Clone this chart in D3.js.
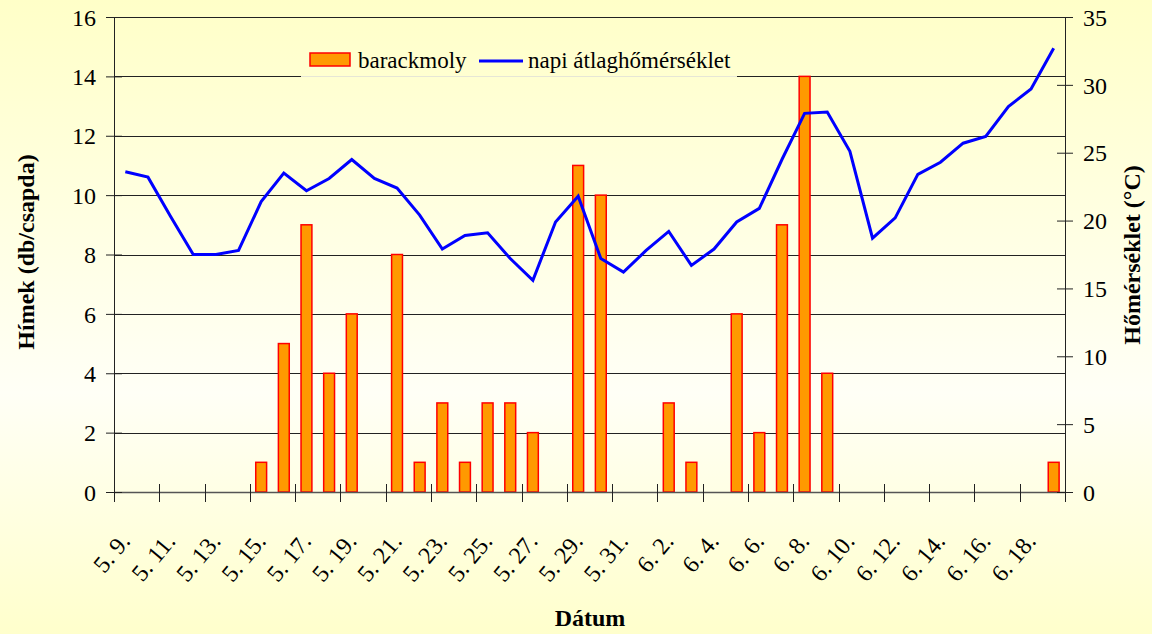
<!DOCTYPE html>
<html>
<head>
<meta charset="utf-8">
<script src="https://cdn.jsdelivr.net/npm/d3@7"></script>
<style>
  html, body { margin: 0; padding: 0; }
  svg { display: block; }
  text { font-family: "Liberation Serif", "Times New Roman", serif; fill: #000; }
</style>
</head>
<body>
<svg id="chart" width="1152" height="634"></svg>
<script>
// ---- data ----
const dates = ["5. 9.","5. 10.","5. 11.","5. 12.","5. 13.","5. 14.","5. 15.","5. 16.","5. 17.","5. 18.",
  "5. 19.","5. 20.","5. 21.","5. 22.","5. 23.","5. 24.","5. 25.","5. 26.","5. 27.","5. 28.",
  "5. 29.","5. 30.","5. 31.","6. 1.","6. 2.","6. 3.","6. 4.","6. 5.","6. 6.","6. 7.",
  "6. 8.","6. 9.","6. 10.","6. 11.","6. 12.","6. 13.","6. 14.","6. 15.","6. 16.","6. 17.",
  "6. 18.","6. 19."];
const barackmoly = [0,0,0,0,0,0,1,5,9,4,
  6,0,8,1,3,1,3,3,2,0,
  11,10,0,0,3,1,0,6,2,9,
  14,4,0,0,0,0,0,0,0,0,
  0,1];
const homerseklet = [23.6,23.2,20.3,17.5,17.5,17.8,21.4,23.5,22.2,23.1,
  24.5,23.1,22.4,20.4,17.9,18.9,19.1,17.2,15.6,19.9,
  21.8,17.2,16.2,17.8,19.2,16.7,17.9,19.9,20.9,24.5,
  27.9,28.0,25.1,18.7,20.2,23.4,24.3,25.7,26.2,28.4,
  29.7,32.7];
const leftTicks = [0,2,4,6,8,10,12,14,16];
const rightTicks = [0,5,10,15,20,25,30,35];
const seriesNames = ["barackmoly", "napi átlaghőmérséklet"];
const titles = { left: "Hímek (db/csapda)", right: "Hőmérséklet (°C)", bottom: "Dátum" };

// ---- layout ----
const W = 1152, H = 634;
const L = 114, R = 1065, T = 17, B = 492;
const svg = d3.select("#chart");

const defs = svg.append("defs");
const grad = defs.append("linearGradient").attr("id", "bg")
  .attr("gradientUnits", "userSpaceOnUse")
  .attr("x1", 0).attr("y1", 0).attr("x2", 0).attr("y2", H);
grad.append("stop").attr("offset", "0%").attr("stop-color", "#FFFFC8");
grad.append("stop").attr("offset", "62%").attr("stop-color", "#FFFFF6");
grad.append("stop").attr("offset", "100%").attr("stop-color", "#FFFFCC");

svg.append("rect").attr("width", W).attr("height", H).attr("fill", "url(#bg)");

const pad = 0.52;
const x = d3.scaleBand().domain(dates).range([L, R]).paddingInner(pad).paddingOuter(pad / 2);
const yL = d3.scaleLinear().domain([0, 16]).range([B, T]);
const yR = d3.scaleLinear().domain([0, 35]).range([B, T]);
const step = x.step();
const boundary = i => L + step * i;

// gridlines
svg.append("g").selectAll("line").data(leftTicks.filter(v => v > 0)).join("line")
  .attr("x1", L).attr("x2", R)
  .attr("y1", d => Math.round(yL(d)) + 0.5).attr("y2", d => Math.round(yL(d)) + 0.5)
  .attr("stroke", "#222").attr("stroke-width", 1);

// bars
svg.append("g").selectAll("rect").data(dates.map((d, i) => ({ d, v: barackmoly[i] })).filter(o => o.v > 0))
  .join("rect")
  .attr("x", o => x(o.d))
  .attr("width", x.bandwidth())
  .attr("y", o => yL(o.v))
  .attr("height", o => yL(0) - yL(o.v))
  .attr("fill", "#FF9900")
  .attr("stroke", "#FF0000")
  .attr("stroke-width", 1.5);

// x axis line and ticks
svg.append("line").attr("x1", L).attr("x2", R).attr("y1", B + 0.5).attr("y2", B + 0.5)
  .attr("stroke", "#555").attr("stroke-width", 1.5);
svg.append("g").selectAll("line").data(d3.range(0, dates.length + 1, 2)).join("line")
  .attr("x1", i => Math.round(boundary(i)) + 0.5).attr("x2", i => Math.round(boundary(i)) + 0.5)
  .attr("y1", B - 8).attr("y2", B + 10)
  .attr("stroke", "#222").attr("stroke-width", 1);

// x tick labels
svg.append("g").selectAll("text").data(dates.filter((d, i) => i % 2 === 0)).join("text")
  .attr("text-anchor", "end")
  .attr("font-size", 24)
  .attr("transform", d => `translate(${x(d) + x.bandwidth() / 2 + 6},${B + 50}) rotate(-50)`)
  .text(d => d);

// left axis
const gL = svg.append("g").attr("transform", `translate(${L},0)`)
  .call(d3.axisLeft(yL).tickValues(leftTicks).tickFormat(d3.format("d")).tickSize(8).tickPadding(10));
gL.select(".domain").attr("stroke", "#222");
gL.selectAll(".tick line").attr("x1", -8).attr("x2", 8).attr("stroke", "#222");
gL.selectAll(".tick text").attr("font-size", 24).attr("font-family", "Liberation Serif").attr("dy", "0.34em").attr("fill", "#000");

// right axis
const gR = svg.append("g").attr("transform", `translate(${R},0)`)
  .call(d3.axisRight(yR).tickValues(rightTicks).tickFormat(d3.format("d")).tickSize(8).tickPadding(10));
gR.select(".domain").attr("stroke", "#222");
gR.selectAll(".tick line").attr("x1", -8).attr("x2", 8).attr("stroke", "#222");
gR.selectAll(".tick text").attr("font-size", 24).attr("font-family", "Liberation Serif").attr("dy", "0.34em").attr("fill", "#000");

// temperature line
const line = d3.line()
  .x((v, i) => x(dates[i]) + x.bandwidth() / 2)
  .y(v => yR(v));
svg.append("path").datum(homerseklet)
  .attr("d", line)
  .attr("fill", "none")
  .attr("stroke", "#0000FF")
  .attr("stroke-width", 3)
  .attr("stroke-linejoin", "miter");

// legend
const lg = svg.append("g");
lg.append("rect").attr("x", 301).attr("y", 40).attr("width", 436).attr("height", 37).attr("fill", "url(#bg)");
lg.append("line").attr("x1", 301).attr("x2", 737).attr("y1", 76.5).attr("y2", 76.5).attr("stroke", "#e6e6d6").attr("stroke-width", 1);
lg.append("rect").attr("x", 310).attr("y", 53).attr("width", 40).attr("height", 13)
  .attr("fill", "#FF9900").attr("stroke", "#FF0000").attr("stroke-width", 1.5);
lg.append("text").attr("x", 358).attr("y", 68).attr("font-size", 23).text(seriesNames[0]);
lg.append("line").attr("x1", 479).attr("x2", 523).attr("y1", 61).attr("y2", 61)
  .attr("stroke", "#0000FF").attr("stroke-width", 3);
lg.append("text").attr("x", 528).attr("y", 68).attr("font-size", 23).text(seriesNames[1]);

// axis titles
svg.append("text").attr("transform", `translate(34,252) rotate(-90)`)
  .attr("text-anchor", "middle").attr("font-size", 24).attr("font-weight", "bold").text(titles.left);
svg.append("text").attr("transform", `translate(1140,255) rotate(-90)`)
  .attr("text-anchor", "middle").attr("font-size", 24).attr("font-weight", "bold").text(titles.right);
svg.append("text").attr("x", 590).attr("y", 626)
  .attr("text-anchor", "middle").attr("font-size", 24).attr("font-weight", "bold").text(titles.bottom);
</script>
</body>
</html>
